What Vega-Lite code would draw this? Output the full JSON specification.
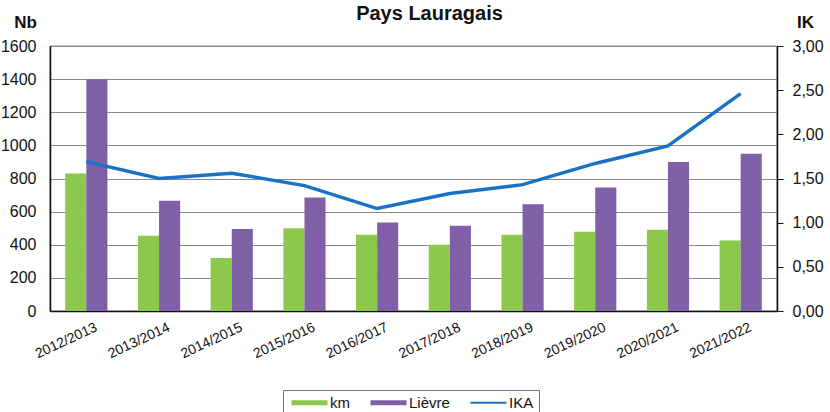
{
  "$schema": "https://vega.github.io/schema/vega-lite/v6.json",
  "autosize": "none",
  "width": 727,
  "height": 265,
  "padding": {"left": 50, "top": 46, "right": 53, "bottom": 101},
  "background": "white",
  "config": {
    "font": "Liberation Sans",
    "view": {"stroke": "#222", "strokeWidth": 1.2},
    "axis": {"labelColor": "#111", "labelFont": "Liberation Sans"}
  },
  "title": {
    "text": "Pays Lauragais",
    "fontSize": 20,
    "fontWeight": "bold",
    "color": "#111",
    "offset": 0,
    "anchor": "middle",
    "dx": 16,
    "dy": 11
  },
  "data": {
    "values": [
      {"year": "2012/2013", "km": 830, "Lièvre": 1400, "ika": 1.69},
      {"year": "2013/2014", "km": 455, "Lièvre": 665, "ika": 1.50},
      {"year": "2014/2015", "km": 320, "Lièvre": 495, "ika": 1.56},
      {"year": "2015/2016", "km": 500, "Lièvre": 685, "ika": 1.42},
      {"year": "2016/2017", "km": 460, "Lièvre": 535, "ika": 1.16},
      {"year": "2017/2018", "km": 400, "Lièvre": 515, "ika": 1.33},
      {"year": "2018/2019", "km": 460, "Lièvre": 645, "ika": 1.43},
      {"year": "2019/2020", "km": 478, "Lièvre": 745, "ika": 1.67},
      {"year": "2020/2021", "km": 490, "Lièvre": 900, "ika": 1.87},
      {"year": "2021/2022", "km": 425, "Lièvre": 950, "ika": 2.46}
    ]
  },
  "layer": [
    {
      "transform": [{"fold": ["km", "Lièvre"], "as": ["series", "value"]}],
      "mark": {"type": "bar"},
      "encoding": {
        "x": {
          "field": "year",
          "type": "nominal",
          "sort": null,
          "scale": {"paddingInner": 0.42, "paddingOuter": 0.21},
          "axis": {
            "title": null,
            "labelAngle": -25,
            "labelAlign": "right",
            "labelBaseline": "top",
            "labelFontSize": 14,
            "labelOffset": 7,
            "labelPadding": 9,
            "ticks": false,
            "domainColor": "#111",
            "domainWidth": 1.5
          }
        },
        "xOffset": {"field": "series", "type": "nominal", "sort": ["km", "Lièvre"]},
        "y": {
          "field": "value",
          "type": "quantitative",
          "scale": {"domain": [0, 1600], "nice": false},
          "axis": {
            "title": "Nb",
            "titleAngle": 0,
            "titleX": -25,
            "titleY": -24,
            "titleAlign": "center",
            "titleBaseline": "middle",
            "titleFontSize": 17,
            "titleFontWeight": "bold",
            "titleColor": "#111",
            "values": [0, 200, 400, 600, 800, 1000, 1200, 1400, 1600],
            "format": "d",
            "labelFontSize": 16,
            "labelPadding": 14,
            "ticks": false,
            "domainColor": "#111",
            "domainWidth": 1.5,
            "grid": true,
            "gridColor": "#8a8a8a",
            "gridWidth": 1.2
          }
        },
        "color": {
          "field": "series",
          "type": "nominal",
          "scale": {"domain": ["km", "Lièvre", "IKA"], "range": ["#8cc84b", "#7f5fa6", "#1a72c4"]},
          "legend": {
            "title": null,
            "orient": "none",
            "direction": "horizontal",
            "legendX": 233,
            "legendY": 344,
            "strokeColor": "#777",
            "fillColor": "white",
            "padding": 5,
            "labelFontSize": 15,
            "labelColor": "#111",
            "labelOffset": 13,
            "symbolOffset": 14,
            "columnPadding": 17,
            "symbolSize": 100,
            "symbolType": "M-3.6,-0.5H3.6V0.5H-3.6Z",
            "symbolStrokeWidth": 0,
            "encode": {
              "symbols": {
                "update": {
                  "fill": {"scale": "color", "field": "value"},
                  "stroke": {"value": "transparent"},
                  "opacity": {"value": 1},
                  "shape": {"signal": "datum.value === 'IKA' ? 'M-3.6,-0.22H3.6V0.22H-3.6Z' : 'M-3.6,-0.5H3.6V0.5H-3.6Z'"}
                }
              }
            }
          }
        }
      }
    },
    {
      "mark": {"type": "line", "strokeWidth": 3.4, "interpolate": "linear"},
      "encoding": {
        "x": {"field": "year", "type": "nominal", "sort": null},
        "y": {
          "field": "ika",
          "type": "quantitative",
          "scale": {"domain": [0, 3], "nice": false},
          "axis": {
            "orient": "right",
            "title": "IK",
            "titleAngle": 0,
            "titleX": 28,
            "titleY": -24,
            "titleAlign": "center",
            "titleBaseline": "middle",
            "titleFontSize": 17,
            "titleFontWeight": "bold",
            "titleColor": "#111",
            "values": [0, 0.5, 1, 1.5, 2, 2.5, 3],
            "labelExpr": "replace(format(datum.value, '.2f'), '.', ',')",
            "labelFontSize": 16,
            "labelPadding": 9,
            "tickSize": 6,
            "tickColor": "#111",
            "domainColor": "#111",
            "domainWidth": 1.5,
            "grid": false
          }
        },
        "color": {"datum": "IKA"}
      }
    }
  ],
  "resolve": {"scale": {"y": "independent"}}
}
